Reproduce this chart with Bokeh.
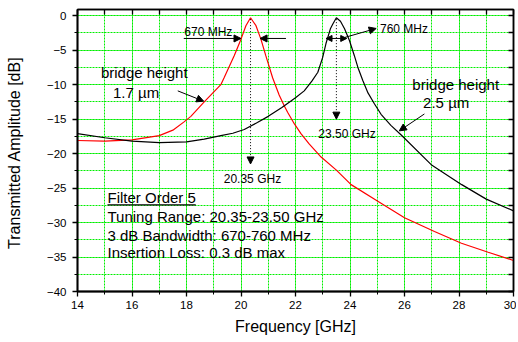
from bokeh.plotting import figure
from bokeh.models import (Arrow, NormalHead, Label, LinearAxis, SingleIntervalTicker,
                          FixedTicker)
from bokeh.embed import file_html
from bokeh.resources import INLINE

# ---- data ----
red_f = [14.0, 15.0, 16.0, 17.0, 17.5, 17.91, 18.16, 18.65, 19.26, 19.38, 19.75, 20.0,
         20.18, 20.35, 20.55, 20.73, 20.91, 21.16, 21.40, 21.59, 21.71, 21.96, 22.2,
         22.5, 22.94, 23.5, 24.04, 25.02, 26.0, 27.1, 28.09, 29.07, 30.0]
red_db = [-18.1, -18.2, -18.0, -17.4, -16.6, -15.4, -14.6, -12.5, -10.0, -9.0, -5.8, -3.4,
          -1.45, -0.3, -1.45, -3.4, -5.8, -9.0, -11.5, -13.1, -14.0, -15.7, -17.1,
          -18.6, -20.5, -22.4, -24.5, -26.9, -29.3, -31.3, -33.0, -34.3, -35.5]

blk_f = [14.0, 15.0, 16.0, 17.0, 18.0, 18.65, 19.26, 19.7, 20.12, 20.6, 21.0, 21.5, 22.0,
         22.32, 22.6, 22.82, 23.0, 23.12, 23.28, 23.37, 23.5, 23.65, 23.80, 23.98,
         24.16, 24.29, 24.47, 24.66, 24.9, 25.14, 25.5, 25.88, 26.98, 28.1, 29.0, 30.0]
blk_db = [-17.1, -17.7, -18.2, -18.4, -18.3, -17.9, -17.4, -17.05, -16.5, -15.5, -14.6, -13.3,
          -11.9, -10.9, -9.5, -8.2, -6.0, -4.0, -1.9, -1.2, -0.3, -0.8, -1.9, -3.6,
          -5.8, -7.5, -9.4, -11.2, -12.8, -14.3, -15.9, -17.3, -21.6, -24.5, -26.6, -28.3]

x_min, x_max = 14, 30
y_min, y_max = -40, 0.9
x_ticks_interval = 2
y_ticks_interval = 5

info_lines = ["Filter Order 5", "Tuning Range: 20.35-23.50 GHz",
              "3 dB Bandwidth: 670-760 MHz", "Insertion Loss: 0.3 dB max"]
info_y = [-26.3, -29.1, -31.85, -34.4]

FONT = "Liberation Sans"

p = figure(width=516, height=340, x_range=(x_min, x_max), y_range=(y_min, y_max),
           output_backend="svg", toolbar_location=None,
           min_border_left=77, min_border_right=3, min_border_top=9, min_border_bottom=49)
p.background_fill_color = "white"
p.border_fill_color = "white"
p.outline_line_color = "black"
p.outline_line_width = 1.5

xt = SingleIntervalTicker(interval=x_ticks_interval, num_minor_ticks=2)
yt = SingleIntervalTicker(interval=y_ticks_interval, num_minor_ticks=2)
p.xaxis.ticker = xt
p.yaxis.ticker = yt

for ax in (p.xaxis[0], p.yaxis[0]):
    ax.axis_line_width = 1.8
    ax.major_tick_out = 5
    ax.major_tick_in = 0
    ax.minor_tick_out = 3
    ax.minor_tick_in = 0
    ax.major_tick_line_width = 1.3
    ax.major_label_text_font = FONT
    ax.major_label_text_font_size = "11.5px"
    ax.major_label_text_color = "black"
    ax.axis_label_text_font = FONT
    ax.axis_label_text_font_size = "16px"
    ax.axis_label_text_font_style = "normal"
    ax.axis_label_text_color = "black"

p.xaxis.axis_label = "Frequency [GHz]"
p.xaxis.major_label_standoff = 4
p.xaxis.axis_label_standoff = 6
p.yaxis.axis_label = "Transmitted Amplitude  [dB]"
p.yaxis.major_label_standoff = 6
p.yaxis.axis_label_standoff = 21

# mirror axes: inward ticks only, no labels
top_ticks = [x_min + i for i in range(x_max - x_min + 1)]
right_ticks = [y_min + 2.5 * i for i in range(17)]
for loc, ticks in (("above", top_ticks), ("right", right_ticks)):
    ax = LinearAxis(ticker=FixedTicker(ticks=[], minor_ticks=ticks),
                    major_tick_in=0, major_tick_out=0,
                    minor_tick_in=5, minor_tick_out=0, minor_tick_line_width=1.3,
                    major_label_standoff=0, axis_line_width=1.5)
    p.add_layout(ax, loc)

for g in (p.xgrid[0], p.ygrid[0]):
    g.grid_line_color = "#00ee00"
    g.grid_line_dash = "2 1"
    g.grid_line_width = 1
    g.minor_grid_line_color = "#00ee00"
    g.minor_grid_line_dash = "2 1"
    g.minor_grid_line_width = 1

p.line(red_f, red_db, line_color="#ff0000", line_width=1.2)
p.line(blk_f, blk_db, line_color="black", line_width=1.2)

def arrow(x0, y0, x1, y1, dash="solid", both=False, size=7):
    head = lambda: NormalHead(size=size, fill_color="black", line_color="black", line_width=1)
    a = Arrow(end=head(), start=(head() if both else None), x_start=x0, y_start=y0,
              x_end=x1, y_end=y1, line_color="black", line_width=1, line_dash=dash)
    p.add_layout(a)

def label(x, y, text, size="12px", align="center"):
    p.add_layout(Label(x=x, y=y, text=text, text_font=FONT, text_font_size=size,
                       text_align=align, text_baseline="middle", text_color="black"))

# 670 MHz bandwidth markers
arrow(17.9, -3.3, 20.0, -3.3)
arrow(21.65, -3.3, 20.7, -3.3)
label(18.8, -2.3, "670 MHz")
# 760 MHz bandwidth markers
arrow(23.12, -3.3, 23.88, -3.3, both=True, size=6)
arrow(23.80, -3.16, 24.96, -1.85)
label(25.1, -1.9, "760 MHz", align="left")
# centre frequency markers
arrow(20.35, -0.5, 20.35, -21.5, dash="1 2")
label(20.42, -23.7, "20.35 GHz")
arrow(23.5, -0.5, 23.5, -15.0, dash="1 2")
label(23.89, -17.2, "23.50 GHz")
# bridge height labels
label(16.45, -8.3, "bridge height", size="15px")
label(16.15, -11.2, "1.7 \u00b5m", size="15px")
arrow(17.68, -10.9, 18.63, -12.4)
label(27.88, -10.0, "bridge height", size="15px")
label(27.53, -12.65, "2.5 \u00b5m", size="15px")
arrow(26.73, -14.25, 25.81, -16.7)

for t, y in zip(info_lines, info_y):
    label(15.1, y, t, size="15px", align="left")
p.segment(x0=[15.1], y0=[-27.45], x1=[18.34], y1=[-27.45], line_color="black", line_width=1.2)

open("out.html", "w").write(file_html(p, INLINE))
